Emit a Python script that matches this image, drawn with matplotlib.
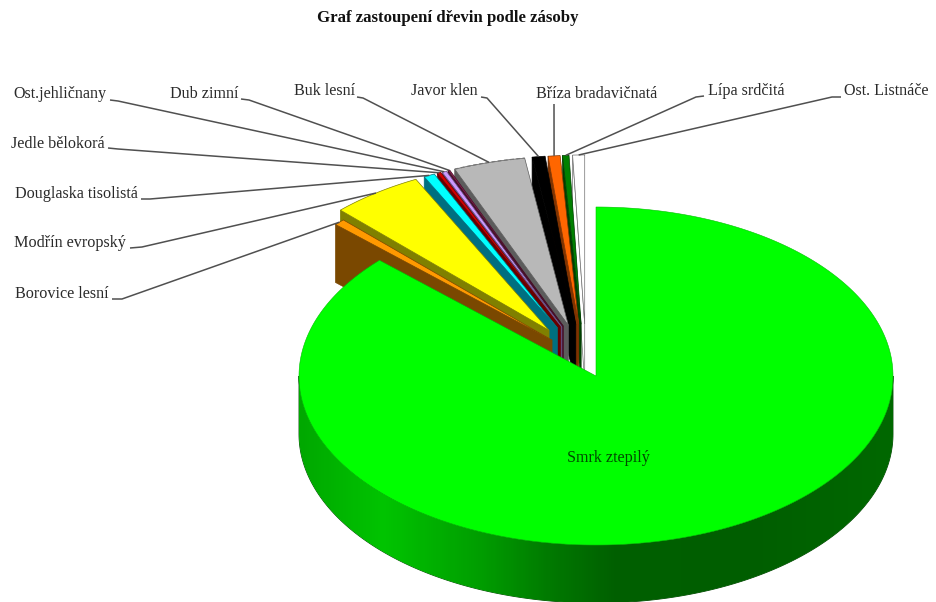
import numpy as np
import matplotlib
matplotlib.use('Agg')
import matplotlib.pyplot as plt
from matplotlib.colors import LinearSegmentedColormap
from matplotlib.patches import Polygon

plt.rcParams['font.family'] = ['Liberation Serif', 'DejaVu Serif']

# podily drevin v %, po smeru hodin od 12 hodin
dreviny = ['Smrk ztepilý', 'Borovice lesní', 'Modřín evropský', 'Douglaska tisolistá',
           'Jedle bělokorá', 'Ost.jehličnany', 'Dub zimní', 'Buk lesní', 'Javor klen',
           'Bříza bradavičnatá', 'Lípa srdčitá', 'Ost. Listnáče']
podily = [87.0, 0.6, 5.0, 0.6, 0.2, 0.25, 0.1, 3.9, 0.7, 0.65, 0.35, 0.65]
barvy = ['#00ff00', '#ff9900', '#ffff00', '#00ffff', '#d00000', '#cc99ff', '#8a1f4f',
         '#b8b8b8', '#000000', '#ff6600', '#008000', '#ffffff']
steny = ['#006000', '#7a4800', '#808000', '#006f80', '#680000', '#665080', '#450f28',
         '#5c5c5c', '#000000', '#803300', '#004000', '#ffffff']

# geometrie kolace v pixelech
cx, cy = 596, 376
rx, ry = 297, 169
hloubka = 58

# posun vysunutych vyseci v jednotkach polomeru
posun_x = [0, -0.148, -0.158, -0.13, -0.12, -0.115, -0.11, -0.093, -0.068, -0.058, -0.05, -0.038]
posun_y = [0, 0.212, 0.27, 0.285, 0.29, 0.29, 0.295, 0.30, 0.306, 0.306, 0.307, 0.308]

# popisky: x, y, zarovnani, pak zlom odkazove cary
popisky = {
    'Borovice lesní': (109, 294, 'right', (112, 299), (122, 299)),
    'Modřín evropský': (126, 243, 'right', (130, 248), (142, 247)),
    'Douglaska tisolistá': (138, 194, 'right', (141, 199), (150, 199)),
    'Jedle bělokorá': (105, 144, 'right', (108, 148), (118, 149)),
    'Ost.jehličnany': (107, 94, 'right', (110, 100), (118, 101)),
    'Dub zimní': (238, 94, 'right', (241, 99), (249, 100)),
    'Buk lesní': (355, 91, 'right', (357, 97), (363, 98)),
    'Javor klen': (478, 91, 'right', (481, 97), (487, 98)),
    'Bříza bradavičnatá': (536, 94, 'left', (554, 104), (554, 105)),
    'Lípa srdčitá': (708, 91, 'left', (704, 96), (696, 97)),
    'Ost. Listnáče': (844, 91, 'left', (841, 97), (832, 97)),
}


def bod(uhel, r=1.0, dx=0.0, dy=0.0):
    # uhel ve stupnich po smeru hodin od 12 hodin
    a = np.radians(np.atleast_1d(uhel))
    return np.column_stack([cx + rx * (r * np.sin(a) + dx), cy - ry * (r * np.cos(a) + dy)])


fig = plt.figure(figsize=(9.36, 6.02), dpi=100)
ax = fig.add_axes([0, 0, 1, 1])
ax.set_xlim(0, 936)
ax.set_ylim(602, 0)
ax.axis('off')

hrany = np.concatenate([[0], np.cumsum(podily)]) * 3.6 * 100 / sum(podily)

# vysunute vysece, od 12 hodin proti smeru hodin at se spravne prekryvaji
for i in range(len(podily) - 1, 0, -1):
    a0, a1 = hrany[i], hrany[i + 1]
    oblouk = bod(np.linspace(a0, a1, 30), 1.0, posun_x[i], posun_y[i])
    spicka = bod(0, 0.0, posun_x[i], posun_y[i])
    okraj = '#707070' if dreviny[i] == 'Ost. Listnáče' else steny[i]
    # stena podel leve hrany
    p0 = oblouk[0]
    stena = np.array([spicka[0], p0, p0 + [0, hloubka], spicka[0] + [0, hloubka]])
    ax.add_patch(Polygon(stena, closed=True, fc=steny[i], ec=okraj, lw=0.5, zorder=2))
    # vrchni plocha
    plocha = np.vstack([spicka, oblouk])
    ax.add_patch(Polygon(plocha, closed=True, fc=barvy[i], ec=okraj, lw=0.5, zorder=2))
    if dreviny[i] == 'Buk lesní':
        ax.plot(oblouk[:, 0], oblouk[:, 1], color='#777777', lw=0.9, ls=(0, (3, 2)), zorder=2)

# bocni stena smrku s prechodem barev
uhly = np.linspace(90, 270, 200)
horni = bod(uhly)
dolni = horni[::-1] + [0, hloubka]
bok = Polygon(np.vstack([horni, dolni]), closed=True, fc='none', ec='#004000', lw=0.6, zorder=3)
ax.add_patch(bok)
prechod = LinearSegmentedColormap.from_list('bok', [
    (0.0, '#00a800'), (0.14, '#00c400'), (0.31, '#009c00'), (0.42, '#007a00'),
    (0.53, '#006000'), (0.76, '#005e00'), (1.0, '#006800')])
obr = ax.imshow(np.linspace(0, 1, 300).reshape(1, -1), cmap=prechod, aspect='auto',
                extent=(cx - rx, cx + rx, 602, cy), zorder=3)
obr.set_clip_path(bok)
ax.set_xlim(0, 936)
ax.set_ylim(602, 0)

# vrchni plocha smrku
oblouk = bod(np.linspace(hrany[0], hrany[1], 300))
ax.add_patch(Polygon(np.vstack([[cx, cy], oblouk]), closed=True, fc=barvy[0], ec='#00c000',
                     lw=0.4, zorder=4))

# popisky a odkazove cary
for i, nazev in enumerate(dreviny):
    if nazev not in popisky:
        continue
    x, y, zarovnani, z0, z1 = popisky[nazev]
    mid = (hrany[i] + hrany[i + 1]) / 2
    konec = bod(mid, 1.0, posun_x[i], posun_y[i])[0]
    ax.plot([z0[0], z1[0], konec[0]], [z0[1], z1[1], konec[1]], color='#505050', lw=1.1,
            zorder=5, solid_capstyle='butt')
    ax.text(x, y, nazev, ha=zarovnani, va='center', fontsize=11.6, color='#2a2a2a', zorder=6)

ax.text(608, 458, dreviny[0], ha='center', va='center', fontsize=11.6, color='#004a00', zorder=6)
ax.text(448, 18, 'Graf zastoupení dřevin podle zásoby', ha='center', va='center',
        fontsize=12.1, fontweight='bold', color='#111111')

fig.savefig('out.png', dpi=100)
